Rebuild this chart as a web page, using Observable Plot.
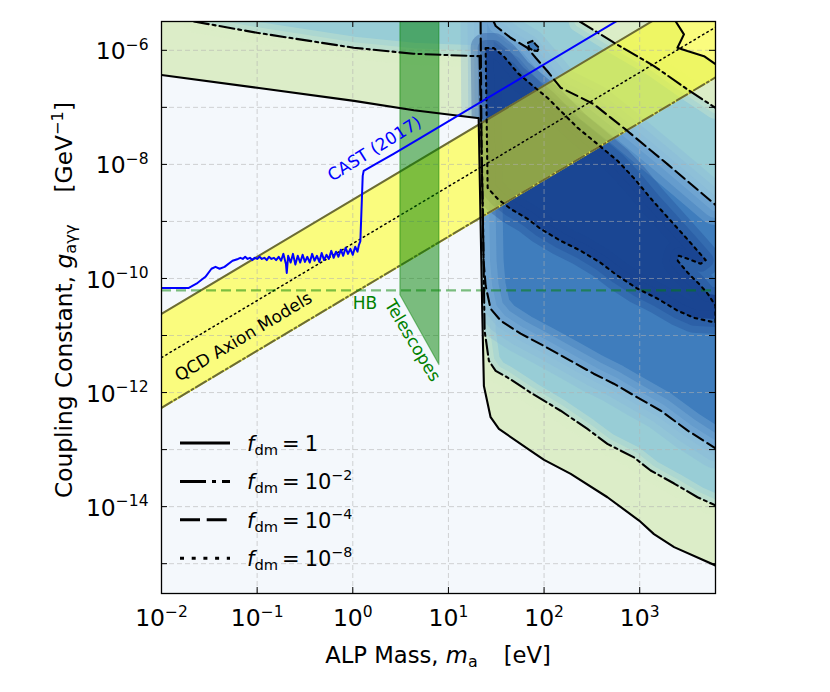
<!DOCTYPE html>
<html>
<head>
<meta charset="utf-8">
<script src="https://cdn.jsdelivr.net/npm/d3@7"></script>
<script src="https://cdn.jsdelivr.net/npm/@observablehq/plot@0.6"></script>
<style>
  html, body { margin: 0; padding: 0; background: #fff; }
  #chart { width: 830px; height: 692px; }
</style>
</head>
<body>
<div id="chart"></div>
<script>
// ---------- axes ----------
const xMin = 1e-2, xMax = 6.2e3;
const yMin = 3e-16, yMax = 3.2e-6;
const xTicks = [1e-2, 1e-1, 1e0, 1e1, 1e2, 1e3];
const yTicks = [1e-6, 1e-7, 1e-8, 1e-9, 1e-10, 1e-11, 1e-12, 1e-13, 1e-14, 1e-15];
const yLabelTicks = [1e-6, 1e-8, 1e-10, 1e-12, 1e-14];

// ---------- f_dm = 1 contour (solid) [mass eV, coupling GeV^-1] ----------
const fdm1Main = [[0.01,3.7e-7],[0.1,2.2e-7],[1.03,1.3e-7],[4.35,8.9e-8],[20,6.5e-8],[20.7,6.5e-8],
  [22.6,2.4e-11],[23.5,1.3e-12],[27.6,3.7e-13],[33.7,2.3e-13],[72,9.6e-14],[100,6.6e-14],
  [190,3.75e-14],[460,1.46e-14],[985,5.7e-15],[1410,3.3e-15],[2290,1.95e-15],[6200,9.3e-16]];
const fdm1TopRight = [[2380,3.2e-6],[2900,1.9e-6],[2480,1.11e-6],[3150,9.7e-7],[4700,7.9e-7],[6200,5.7e-7]];

// ---------- f_dm = 1e-2 contour (dash-dot) ----------
const fdm2Main = [[0.0218,3.2e-6],[0.1,2.03e-6],[1.02,1.11e-6],[4.3,8.7e-7],[19.3,7.9e-7],[21.2,7.9e-7],
  [22.8,2.3e-9],[23.9,1.21e-11],[26.5,3.6e-12],[31.2,2.4e-12],[41.3,1.85e-12],[72,1.0e-12],
  [149,4.8e-13],[284,2.3e-13],[459,1.26e-13],[871,7.3e-14],[1300,4.3e-14],[2290,2.54e-14],
  [4020,1.46e-14],[6200,1.05e-14]];
const fdm2TopRight = [[236,3.2e-6],[538,1.36e-6],[1410,5.3e-7],[3150,2.07e-7],[5750,1.06e-7],[6200,9.8e-8]];

// ---------- f_dm = 1e-4 contour (dashed) ----------
const fdm4Main = [[21.7,3.2e-6],[22.2,1.72e-8],[23.3,2.0e-10],[24.5,7.45e-11],[27.6,2.95e-11],
  [35.2,1.82e-11],[56.9,1.08e-11],[99,6.6e-12],[190,3.6e-12],[330,2.14e-12],[535,1.43e-12],
  [953,8.15e-13],[1660,4.8e-13],[3180,2.15e-13],[6200,1.05e-13]];
const fdm4Upper = [[29.7,3.2e-6],[31.2,2.67e-6],[44.7,1.66e-6],[66.8,1.11e-6],[81.7,7.4e-7],
  [108,4.34e-7],[149,2.21e-7],[242,1.48e-7],[333,1.13e-7],[497,6.6e-8],[744,3.86e-8],
  [1205,1.97e-8],[1950,1.01e-8],[3155,5.1e-9],[5530,2.3e-9],[6200,1.95e-9]];
const fdm4Island = [[67.9,1.36e-6],[75.5,1.46e-6],[81.7,1.27e-6],[88.5,1.11e-6],[85.1,9.7e-7],
  [75.5,1.0e-6],[69.5,1.11e-6],[67.9,1.36e-6]];

// ---------- f_dm = 1e-8 contour (dotted, closed) ----------
const fdm8Closed = [[24.5,1.1e-6],[29.7,1.1e-6],[37.8,7.9e-7],[53,4.0e-7],[72.4,2.57e-7],[109,1.46e-7],
  [149,8.65e-8],[225,4.36e-8],[330,2.58e-8],[589,1.15e-8],[865,5.8e-9],[1370,2.3e-9],[2110,1.03e-9],
  [3410,4.2e-10],[4900,2.1e-10],[4350,1.81e-10],[3180,2.21e-10],[2560,2.5e-10],[2500,2.04e-10],
  [3180,1.26e-10],[4350,7.45e-11],[5140,5.4e-11],[6200,3.33e-11],[6200,1.68e-11],[3670,2.05e-11],
  [2500,2.72e-11],[1540,4.41e-11],[953,6.6e-11],[589,1.11e-10],[391,1.88e-10],[242,3.05e-10],
  [149,4.57e-10],[92,7.4e-10],[67.3,1.11e-9],[44.7,1.66e-9],[32.7,2.49e-9],[25.7,3.87e-9],[24.5,1.1e-6]];

// ---------- QCD axion band ----------
const qcdMass = [1e-2, 6.2e3];
const qcdUpper = [2.4e-11, 1.49e-5];
const qcdCenter = [4.1e-12, 2.54e-6];
const qcdLower = [5.4e-13, 3.35e-7];

// ---------- Telescopes / HB ----------
const telescopeEdge = [[3.11,5.2e-11],[7.95,3.1e-12]];
const hbCoupling = 6.2e-11;

// ---------- CAST (2017) ----------
const castMass = [0.01,0.0191,0.0232,0.0288,0.0333,0.0367,0.0405,0.0456,0.0553,0.0631,0.0668,0.0708,0.075,
  0.0794,0.0841,0.0891,0.0944,0.1,0.106,0.112,0.119,0.126,0.133,0.141,0.150,0.158,0.168,0.178,0.188,0.2,
  0.204,0.211,0.224,0.237,0.251,0.266,0.282,0.299,0.316,0.335,0.355,0.376,0.398,0.422,0.447,0.473,0.501,
  0.531,0.562,0.596,0.631,0.668,0.708,0.75,0.794,0.841,0.891,0.944,1.0,1.06,1.12,1.16,1.2,1.27,1.30,1.82,
  2.67,5.12,600];
const castCoupling = [6.8e-11,6.8e-11,8.1e-11,1.07e-10,1.48e-10,1.6e-10,1.48e-10,1.6e-10,2.04e-10,2.2e-10,
  2.3e-10,2.2e-10,2.4e-10,2.2e-10,2.3e-10,2.1e-10,2.3e-10,2.2e-10,2.4e-10,2.2e-10,2.3e-10,2.1e-10,2.4e-10,
  2.2e-10,2.3e-10,2.1e-10,2.4e-10,2.05e-10,2.7e-10,1.8e-10,1.25e-10,2.5e-10,1.9e-10,2.7e-10,1.75e-10,
  2.5e-10,1.9e-10,2.6e-10,1.95e-10,2.4e-10,1.9e-10,2.7e-10,2.05e-10,2.5e-10,1.95e-10,2.8e-10,2.1e-10,
  2.6e-10,2.2e-10,3.05e-10,2.3e-10,2.95e-10,2.4e-10,3.2e-10,2.5e-10,3.45e-10,2.7e-10,3.3e-10,2.6e-10,
  3.6e-10,2.95e-10,3.9e-10,4.5e-10,6.3e-9,7.7e-9,1.06e-8,1.53e-8,2.91e-8,3.4e-6];

// ---------- annotations & legend ----------
const annotations = [
  {text: "QCD Axion Models", m: 0.072, g: 9.5e-12, rotate: -31, color: "black"},
  {text: "CAST (2017)", m: 1.69, g: 1.87e-8, rotate: -32, color: "#0000ff"},
  {text: "HB", m: 1.34, g: 3.68e-11, rotate: 0, color: "#008000"},
  {text: "Telescopes", m: 4.22, g: 8.1e-12, rotate: 59, color: "#008000"}
];
const legendLabels = ["1", "10^\u22122", "10^\u22124", "10^\u22128"];
const legendDash = [null, "26,6,4,6", "20,6.7", "4,7.7"];

// ---------- build tables ----------
const ext = p => p[1] >= yMax ? [p[0], yMax * 6] : (p[0] >= xMax ? [xMax * 4, p[1]] : p);
const extend = a => [ext(a[0]), ...a, ext(a[a.length - 1])];
const f1Poly = fdm1Main.concat(fdm1TopRight.slice().reverse(), [[xMin, yMax]]);
const f2Fill = extend(fdm2Main).concat(extend(fdm2TopRight).reverse());
const f4Fill = extend(fdm4Main).concat(extend(fdm4Upper).reverse());
const f8Fill = fdm8Closed.map(ext);
const exclLow = fdm1Main.concat([[xMax, yMin], [xMin, yMin]]);
const exclTop = fdm1TopRight.concat([[xMax, yMax]]);
const telescopePoly = [[telescopeEdge[0][0], yMax], ...telescopeEdge, [telescopeEdge[1][0], yMax]];
const qcdRows = qcdMass.map((m, i) => ({m, hi: qcdUpper[i], mid: qcdCenter[i], lo: qcdLower[i]}));
const castRows = castMass.map((m, i) => ({m, g: castCoupling[i]}));

const pts = (data, opts) => Plot.line(data, {x: d => d[0], y: d => d[1], clip: true, strokeLinejoin: "round", ...opts});
const CW = 2.1;
const innerW = 830 - 161 - 115, innerH = 692 - 21 - 99;
const BG = "#f4f8fc";
const C1 = "#dcedc8", C2 = "#98cdd6", C4 = "#3f7dbd", C4L = "#86b6da", C8 = "#1a4693";
const fmtExp = d => "10^" + String(Math.round(Math.log10(d))).replace("-", "\u2212");
// soft transitions: semi-transparent wide strokes along contour boundaries
const halo = (data, color, widths, op) => widths.map(w => pts(data, {fill: "none", stroke: color, strokeOpacity: op, strokeWidth: w}));

const marks = [
  Plot.frame({fill: BG, stroke: null}),
  pts(f1Poly, {fill: C1, stroke: "none"}),
  pts(f2Fill, {fill: C2, stroke: "none"}),
  ...halo(f2Fill, C1, [22, 11], 0.3),
  pts(f4Fill, {fill: C4, stroke: "none"}),
  ...halo(f4Fill, C4L, [40, 26, 13], 0.33),
  pts(fdm4Island, {fill: C4, stroke: "none"}),
  pts(f8Fill, {fill: C8, stroke: "none"}),
  ...halo(f8Fill, C8, [30, 16], 0.3),
  pts(exclLow, {fill: BG, stroke: "none"}),
  pts(exclTop, {fill: BG, stroke: "none"}),
  Plot.areaY(qcdRows, {x: "m", y1: "lo", y2: "hi", fill: "yellow", fillOpacity: 0.5, clip: true}),
  Plot.ruleX(xTicks, {stroke: "#b0b0b0", strokeOpacity: 0.55, strokeDasharray: "5,3"}),
  Plot.ruleY(yTicks, {stroke: "#b0b0b0", strokeOpacity: 0.55, strokeDasharray: "5,3"}),
  Plot.line(qcdRows, {x: "m", y: "hi", stroke: "#6b6b35", strokeWidth: 2, clip: true}),
  Plot.line(qcdRows, {x: "m", y: "lo", stroke: "#eeee40", strokeWidth: 2, clip: true}),
  Plot.line(qcdRows, {x: "m", y: "lo", stroke: "#6b6b35", strokeWidth: 2, strokeDasharray: "12,3,2,3", clip: true}),
  Plot.line(qcdRows, {x: "m", y: "mid", stroke: "black", strokeWidth: 1.5, strokeDasharray: "1.5,3.5", clip: true}),
  pts(telescopePoly, {fill: "green", fillOpacity: 0.5, stroke: "green", strokeOpacity: 0.45, strokeWidth: 1.2}),
  Plot.ruleY([hbCoupling], {stroke: "green", strokeOpacity: 0.5, strokeWidth: 2.2, strokeDasharray: "10,5"}),
  // contour lines
  pts(fdm1Main, {stroke: "black", strokeWidth: CW}),
  pts(fdm1TopRight, {stroke: "black", strokeWidth: CW}),
  pts(fdm2Main, {stroke: "black", strokeWidth: CW, strokeDasharray: "15,4,3,4"}),
  pts(fdm2TopRight, {stroke: "black", strokeWidth: CW, strokeDasharray: "15,4,3,4"}),
  pts(fdm4Main, {stroke: "black", strokeWidth: CW, strokeDasharray: "12,5"}),
  pts(fdm4Upper, {stroke: "black", strokeWidth: CW, strokeDasharray: "12,5"}),
  pts(fdm4Island, {stroke: "black", strokeWidth: CW, strokeDasharray: "5,3"}),
  pts(fdm8Closed, {stroke: "black", strokeWidth: CW, strokeDasharray: "2.8,4.5"}),
  Plot.line(castRows, {x: "m", y: "g", stroke: "#0000ff", strokeWidth: 2, clip: true}),
  ...annotations.map(a => Plot.text([a], {x: "m", y: "g", text: "text", rotate: a.rotate, fill: a.color, fontSize: 17})),
  // inward ticks
  Plot.ruleX(xTicks, {stroke: "black", insetTop: innerH - 6}),
  Plot.ruleX(xTicks, {stroke: "black", insetBottom: innerH - 6}),
  Plot.ruleY(yTicks, {stroke: "black", insetRight: innerW - 6}),
  Plot.ruleY(yTicks, {stroke: "black", insetLeft: innerW - 6}),
  Plot.axisX({ticks: xTicks, tickSize: 0, tickPadding: 16, fontSize: 23.5, label: null, tickFormat: fmtExp}),
  Plot.axisY({ticks: yLabelTicks, tickSize: 0, tickPadding: 13, fontSize: 23.5, label: null, dy: 1.5, tickFormat: fmtExp}),
  Plot.frame({stroke: "black", strokeWidth: 1.3})
];

const svg = Plot.plot({
  width: 830, height: 692,
  marginLeft: 161, marginRight: 115, marginTop: 21, marginBottom: 99,
  style: {fontFamily: "'DejaVu Sans', sans-serif", fontSize: "17px", background: "white", color: "black"},
  x: {type: "log", domain: [xMin, xMax]},
  y: {type: "log", domain: [yMin, yMax]},
  marks
});
document.getElementById("chart").appendChild(svg);

const S = d3.select(svg);
// superscript tick labels
S.selectAll('g[aria-label="x-axis tick label"] text, g[aria-label="y-axis tick label"] text').each(function() {
  const t = d3.select(this);
  const [base, exp] = t.text().split("^");
  t.text(null);
  t.append("tspan").text(base);
  t.append("tspan").attr("dy", "-0.62em").attr("font-size", "0.66em").text(exp);
});

// x title
const xt = S.append("text").attr("x", 438).attr("y", 663).attr("text-anchor", "middle")
  .attr("font-size", 22.7).attr("fill", "black");
xt.append("tspan").text("ALP Mass, ");
xt.append("tspan").attr("font-style", "italic").text("m");
xt.append("tspan").attr("font-size", "0.7em").attr("dy", 4).text("a");
xt.append("tspan").attr("dy", -4).attr("dx", 26).text("[eV]");

// y title
const yt = S.append("text").attr("transform", "translate(72,300) rotate(-90)").attr("text-anchor", "middle")
  .attr("font-size", 23.3).attr("fill", "black");
yt.append("tspan").text("Coupling Constant, ");
yt.append("tspan").attr("font-style", "italic").text("g");
yt.append("tspan").attr("font-size", "0.7em").attr("dy", 4).text("a\u03b3\u03b3");
yt.append("tspan").attr("dy", -4).attr("dx", 32).text("[GeV");
yt.append("tspan").attr("font-size", "0.7em").attr("dy", -9).text("\u22121");
yt.append("tspan").attr("dy", 9).text("]");

// legend
const lg = S.append("g").attr("text-anchor", "start");
legendLabels.forEach((lab, i) => {
  const y = 443 + i * 38.4;
  const ln = lg.append("line").attr("x1", 180).attr("x2", 230).attr("y1", y).attr("y2", y)
    .attr("stroke", "black").attr("stroke-width", 3);
  if (legendDash[i]) ln.attr("stroke-dasharray", legendDash[i]);
  const tx = lg.append("text").attr("x", 247).attr("y", y + 8).attr("font-size", 21).attr("fill", "black")
    .attr("text-anchor", "start");
  tx.append("tspan").attr("font-style", "italic").text("f");
  tx.append("tspan").attr("font-size", "0.7em").attr("dy", 4).text("dm");
  const [base, exp] = lab.split("^");
  tx.append("tspan").attr("dy", -4).attr("dx", 4).text("=");
  tx.append("tspan").attr("dx", 5).text(base);
  if (exp) tx.append("tspan").attr("font-size", "0.68em").attr("dy", -9).text(exp);
});
</script>
</body>
</html>
